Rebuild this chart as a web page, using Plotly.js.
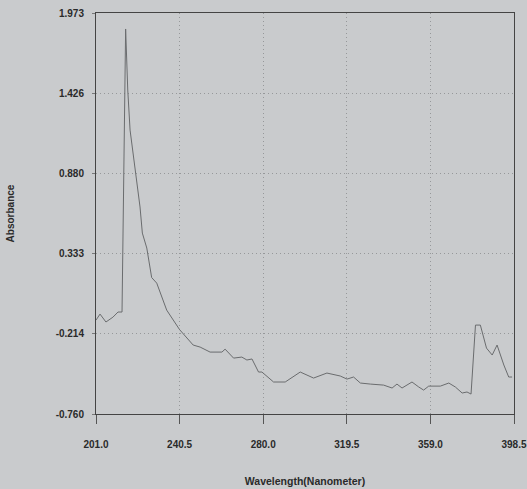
<!DOCTYPE html>
<html>
<head>
<meta charset="utf-8">
<script src="https://cdn.plot.ly/plotly-3.0.1.min.js"></script>
<style>html,body{margin:0;padding:0;background:#c9cbcd;}#chart{width:527px;height:489px;}</style>
</head>
<body>
<div id="chart"></div>
<script>
const wavelength = [201.0, 202.9, 205.7, 209.0, 211.4, 213.3, 215.0, 216.0, 217.1, 220.3, 221.8, 222.9, 225.0, 227.3, 229.7, 234.4, 240.5, 246.9, 250.2, 254.9, 260.5, 262.0, 266.0, 269.9, 272.3, 274.7, 277.8, 279.4, 284.9, 290.4, 297.5, 303.8, 310.1, 316.4, 319.6, 322.7, 325.9, 330.6, 336.9, 340.9, 343.2, 345.6, 350.3, 353.5, 355.8, 358.2, 363.7, 367.7, 370.8, 374.0, 376.3, 378.2, 380.3, 382.6, 385.5, 388.2, 390.5, 393.7, 396.0, 397.6];
const absorbance = [-0.120, -0.079, -0.133, -0.100, -0.065, -0.065, 1.864, 1.448, 1.175, 0.835, 0.651, 0.473, 0.371, 0.170, 0.132, -0.052, -0.185, -0.290, -0.304, -0.338, -0.338, -0.318, -0.379, -0.372, -0.392, -0.385, -0.474, -0.474, -0.542, -0.542, -0.474, -0.515, -0.481, -0.501, -0.522, -0.508, -0.549, -0.556, -0.563, -0.583, -0.556, -0.583, -0.542, -0.576, -0.597, -0.570, -0.570, -0.549, -0.576, -0.617, -0.610, -0.624, -0.154, -0.154, -0.311, -0.358, -0.290, -0.426, -0.508, -0.508];
const xTicks = [201.0, 240.5, 280.0, 319.5, 359.0, 398.5];
const xTickLabels = ['201.0', '240.5', '280.0', '319.5', '359.0', '398.5'];
const yTicks = [1.973, 1.426, 0.880, 0.333, -0.214, -0.760];
const yTickLabels = ['1.973', '1.426', '0.880', '0.333', '-0.214', '-0.760'];

const tickFont = {family: 'Liberation Sans, Arial, sans-serif', size: 10, color: '#2a2a2a', weight: 'bold'};

Plotly.newPlot('chart', [{
  x: wavelength, y: absorbance, type: 'scatter', mode: 'lines',
  line: {color: '#6a6c6e', width: 1}, hoverinfo: 'skip'
}], {
  width: 527, height: 489,
  margin: {l: 96, r: 13, t: 13, b: 75},
  paper_bgcolor: '#c9cbcd', plot_bgcolor: '#c9cbcd',
  showlegend: false,
  xaxis: {
    range: [201.0, 398.5], tickmode: 'array', tickvals: xTicks, ticktext: xTickLabels,
    ticks: 'outside', ticklen: 9, tickcolor: '#555', tickwidth: 1,
    showline: true, linecolor: '#444', linewidth: 1, mirror: true,
    showgrid: true, gridcolor: '#96989a', griddash: '1px,3px', gridwidth: 1,
    zeroline: false, tickfont: tickFont, ticklabelstandoff: 12,
    title: {text: 'Wavelength(Nanometer)', font: {family: 'Liberation Sans, Arial, sans-serif', size: 10.5, color: '#2a2a2a', weight: 'bold'}, standoff: 28}
  },
  yaxis: {
    range: [-0.760, 1.973], tickmode: 'array', tickvals: yTicks, ticktext: yTickLabels,
    ticks: 'outside', ticklen: 3, tickcolor: '#777', tickwidth: 1,
    showline: true, linecolor: '#444', linewidth: 1, mirror: true,
    showgrid: true, gridcolor: '#96989a', griddash: '1px,3px', gridwidth: 1,
    zeroline: false, tickfont: tickFont, ticklabelstandoff: 6,
    title: {text: 'Absorbance', font: {family: 'Liberation Sans, Arial, sans-serif', size: 10, color: '#2a2a2a', weight: 'bold'}, standoff: 39}
  }
}, {staticPlot: true, displayModeBar: false});
</script>
</body>
</html>
